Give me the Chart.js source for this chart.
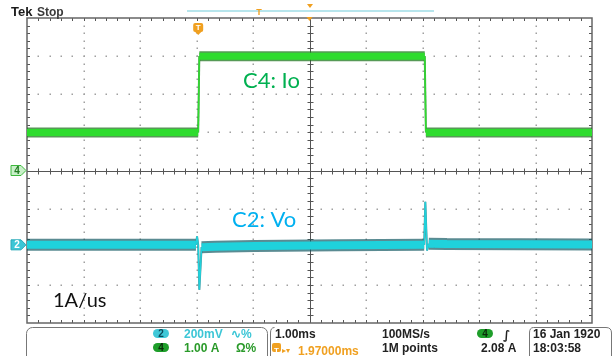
<!DOCTYPE html>
<html>
<head>
<meta charset="utf-8">
<script src="https://cdn.jsdelivr.net/npm/chart.js@4.4.1/dist/chart.umd.min.js"></script>
<style>
  html, body { margin: 0; padding: 0; background: #fff; }
  #wrap { width: 613px; height: 356px; position: relative; }
</style>
</head>
<body>
<div id="wrap"><canvas id="scope"></canvas></div>
<script>
// time base: ms from the trigger, 1.00 ms/div, 10 div across
const timeWindow = [-3.03, 6.97];

// C4: load current Io in A (1.00 A/div, ground at centre)
const ioTime = [-3.03, 0.00, 0.02, 4.01, 4.03, 6.97];
const ioAmps = [1.0, 1.0, 3.0, 3.0, 1.0, 1.0];

// C2: output voltage deviation Vo in mV (200 mV/div)
const voTime = [-3.03, -0.04, -0.02, 0.00, 0.02, 0.06, 0.30, 1.00, 2.50, 4.00, 4.02, 4.05, 4.08, 4.40, 6.97];
const voMv   = [0, 0, 45, 0, -236, -12, -10, -6, -2, 0, 226, -30, 6, 4, 2];

const ch4PerDiv = 1.0;   // A
const ch2PerDiv = 200;   // mV
const ch2Pos = -1.95;    // div

const toPoints = (xs, ys) => xs.map((t, i) => ({ x: t, y: ys[i] }));

// noise band is thick on the flat parts, edges and spikes are thin
const bandWidth = (wide, thin) => c => Math.abs(c.p1.y - c.p0.y) > 6 ? thin : wide;

function pill(ctx, cx, cy, w, h, fill, stroke, text, textColor) {
    ctx.beginPath();
    ctx.roundRect(cx - w / 2, cy - h / 2, w, h, h / 2);
    ctx.fillStyle = fill;
    ctx.fill();
    if (stroke) { ctx.strokeStyle = stroke; ctx.lineWidth = 1; ctx.stroke(); }
    ctx.fillStyle = textColor;
    ctx.font = 'bold 10px "Liberation Sans"';
    ctx.textAlign = 'center';
    ctx.textBaseline = 'middle';
    ctx.fillText(text, cx, cy + 0.5);
}

// ground marker on the left edge, pointing into the screen
function groundTag(ctx, left, cy, fill, stroke, text, textColor) {
    ctx.beginPath();
    ctx.moveTo(left - 16, cy - 5);
    ctx.lineTo(left - 6, cy - 5);
    ctx.lineTo(left - 1, cy);
    ctx.lineTo(left - 6, cy + 5);
    ctx.lineTo(left - 16, cy + 5);
    ctx.closePath();
    ctx.fillStyle = fill;
    ctx.fill();
    ctx.strokeStyle = stroke;
    ctx.lineWidth = 1;
    ctx.stroke();
    ctx.fillStyle = textColor;
    ctx.font = 'bold 10px "Liberation Sans"';
    ctx.textAlign = 'center';
    ctx.textBaseline = 'middle';
    ctx.fillText(text, left - 10, cy + 0.5);
}

const graticule = {
    id: 'graticule',
    beforeDatasetsDraw(chart) {
        const { ctx, chartArea: a, scales: { x, yIo } } = chart;
        const x0 = timeWindow[0];
        ctx.save();

        // dotted division lines
        ctx.fillStyle = '#a0a0a0';
        for (let k = 1; k < 10; k++) {
            if (k === 5) continue;
            const px = Math.round(x.getPixelForValue(x0 + k));
            for (let m = 1; m < 40; m++) {
                const py = Math.round(yIo.getPixelForValue(-4 + m * 0.2));
                ctx.fillRect(px - 0.5, py - 0.5, 1.5, 1.5);
            }
        }
        for (let j = -3; j <= 3; j++) {
            if (j === 0) continue;
            const py = Math.round(yIo.getPixelForValue(j));
            for (let m = 1; m < 50; m++) {
                const px = Math.round(x.getPixelForValue(x0 + m * 0.2));
                ctx.fillRect(px - 0.5, py - 0.5, 1.5, 1.5);
            }
        }

        // centre cross with minor ticks
        const cx = Math.round(x.getPixelForValue(x0 + 5)) + 0.5;
        const cy = Math.round(yIo.getPixelForValue(0)) + 0.5;
        ctx.strokeStyle = '#555';
        ctx.lineWidth = 1;
        ctx.beginPath();
        ctx.moveTo(a.left, cy); ctx.lineTo(a.right, cy);
        ctx.moveTo(cx, a.top); ctx.lineTo(cx, a.bottom);
        for (let m = 1; m < 50; m++) {
            const px = Math.round(x.getPixelForValue(x0 + m * 0.2)) + 0.5;
            ctx.moveTo(px, cy - 3); ctx.lineTo(px, cy + 3);
            ctx.moveTo(px, a.top); ctx.lineTo(px, a.top + 3);
            ctx.moveTo(px, a.bottom); ctx.lineTo(px, a.bottom - 3);
        }
        for (let m = 1; m < 40; m++) {
            const py = Math.round(yIo.getPixelForValue(-4 + m * 0.2)) + 0.5;
            ctx.moveTo(cx - 3, py); ctx.lineTo(cx + 3, py);
            ctx.moveTo(a.left, py); ctx.lineTo(a.left + 3, py);
            ctx.moveTo(a.right, py); ctx.lineTo(a.right - 3, py);
        }
        ctx.stroke();

        // frame
        ctx.strokeStyle = '#666';
        ctx.lineWidth = 1.5;
        ctx.strokeRect(a.left, a.top, a.right - a.left, a.bottom - a.top);
        ctx.restore();
    },
    afterDatasetsDraw(chart) {
        const { ctx, chartArea: a, scales: { x, yIo, yVo } } = chart;
        ctx.save();

        // channel ground markers
        groundTag(ctx, a.left, yIo.getPixelForValue(0), '#c9f0c9', '#3cb83c', '4', '#227a22');
        groundTag(ctx, a.left, yVo.getPixelForValue(0), '#3cc6d6', '#2aa8b8', '2', '#ffffff');

        // trigger position marker
        const tx = x.getPixelForValue(0);
        ctx.fillStyle = '#f0a020';
        ctx.beginPath();
        ctx.roundRect(tx - 5, a.top + 5, 10, 9, 2);
        ctx.moveTo(tx - 3, a.top + 14); ctx.lineTo(tx, a.top + 17); ctx.lineTo(tx + 3, a.top + 14);
        ctx.fill();
        ctx.fillStyle = '#fff';
        ctx.font = 'bold 8px "Liberation Sans"';
        ctx.textAlign = 'center';
        ctx.textBaseline = 'middle';
        ctx.fillText('T', tx, a.top + 10);

        // expansion point at the top of the screen
        const mx = x.getPixelForValue(timeWindow[0] + 5);
        ctx.fillStyle = '#f0a020';
        ctx.beginPath();
        ctx.moveTo(mx - 3, a.top - 1); ctx.lineTo(mx + 3, a.top - 1); ctx.lineTo(mx, a.top + 3);
        ctx.fill();

        // trace annotations
        ctx.textAlign = 'left';
        ctx.textBaseline = 'alphabetic';
        ctx.font = '22px Lato';
        ctx.fillStyle = '#00B050';
        ctx.fillText('C4: Io', 243, 88);
        ctx.fillStyle = '#00B0F0';
        ctx.fillText('C2: Vo', 232, 227);
        ctx.font = '20px Lato';
        ctx.fillStyle = '#111';
        ctx.fillText('1A/us', 53, 307);
        ctx.restore();
    },
    afterDraw(chart) {
        const { ctx } = chart;
        ctx.save();

        // title and record view
        ctx.textAlign = 'left';
        ctx.textBaseline = 'alphabetic';
        ctx.fillStyle = '#1a1a1a';
        ctx.font = 'bold 13px "Liberation Sans"';
        ctx.fillText('Tek', 11, 16);
        ctx.font = 'bold 12px "Liberation Sans"';
        ctx.fillStyle = '#3a3a3a';
        ctx.fillText('Stop', 37, 16);

        ctx.strokeStyle = '#9fdde6';
        ctx.lineWidth = 1.5;
        ctx.beginPath();
        ctx.moveTo(187, 11); ctx.lineTo(434, 11);
        ctx.stroke();
        ctx.fillStyle = '#f0a020';
        ctx.font = 'bold 9px "Liberation Sans"';
        ctx.textAlign = 'center';
        ctx.fillText('T', 259, 15);
        ctx.beginPath();
        ctx.moveTo(307, 4); ctx.lineTo(313, 4); ctx.lineTo(310, 8);
        ctx.fill();

        // status bar frames
        ctx.strokeStyle = '#777';
        ctx.lineWidth = 1;
        ctx.beginPath();
        ctx.roundRect(26.5, 327.5, 241, 40, 6);
        ctx.moveTo(274.5, 327.5); ctx.quadraticCurveTo(270.5, 327.5, 270.5, 333); ctx.lineTo(270.5, 356);
        ctx.moveTo(533.5, 327.5); ctx.quadraticCurveTo(529.5, 327.5, 529.5, 333); ctx.lineTo(529.5, 356);
        ctx.moveTo(533.5, 327.5); ctx.lineTo(606, 327.5); ctx.quadraticCurveTo(611.5, 327.5, 611.5, 333); ctx.lineTo(611.5, 356);
        ctx.stroke();

        // vertical settings
        pill(ctx, 161, 333.5, 16, 9, '#3fc8d8', null, '2', '#0b4a5a');
        pill(ctx, 161, 347.5, 16, 9, '#1e9e2a', null, '4', '#0a2a0a');
        ctx.textAlign = 'left';
        ctx.textBaseline = 'alphabetic';
        ctx.font = 'bold 12px "Liberation Sans"';
        ctx.fillStyle = '#3cc6d6';
        ctx.fillText('200mV', 184, 338);
        ctx.fillText('\u223F%', 231, 338);
        ctx.fillStyle = '#2a9a2a';
        ctx.fillText('1.00 A', 184, 352);
        ctx.fillText('\u03A9%', 236, 352);

        // horizontal and trigger settings
        ctx.fillStyle = '#222';
        ctx.fillText('1.00ms', 275, 338);
        ctx.fillText('100MS/s', 382, 338);
        ctx.fillText('1M points', 382, 352);
        ctx.fillText('2.08 A', 481, 352);
        ctx.fillText('16 Jan 1920', 533, 338);
        ctx.fillText('18:03:58', 533, 352);
        ctx.font = 'italic bold 12px "DejaVu Sans"';
        ctx.fillText('\u222B', 503, 339);

        pill(ctx, 485, 333.5, 16, 9, '#1e9e2a', null, '4', '#0a2a0a');

        ctx.fillStyle = '#f0a020';
        ctx.beginPath();
        ctx.roundRect(272, 343, 9, 9, 2);
        ctx.fill();
        ctx.fillStyle = '#fff';
        ctx.font = 'bold 8px "Liberation Sans"';
        ctx.textAlign = 'center';
        ctx.fillText('T', 276.5, 351);
        ctx.textAlign = 'left';
        ctx.fillStyle = '#f0a020';
        ctx.font = 'bold 8px "DejaVu Sans"';
        ctx.fillText('\u25B8\u25BE', 282, 351);
        ctx.font = 'bold 12px "Liberation Sans"';
        ctx.fillText('1.97000ms', 298, 352);
        ctx.restore();
    }
};

const ioPoints = toPoints(ioTime, ioAmps);
const voPoints = toPoints(voTime, voMv);

new Chart(document.getElementById('scope'), {
    type: 'line',
    data: {
        datasets: [
            {
                label: 'C4: Io', data: ioPoints, yAxisID: 'yIo', order: 1,
                borderColor: '#2edc2e', borderWidth: 7,
                segment: { borderWidth: bandWidth(7, 1.5) }
            },
            {
                label: 'C4 edge', data: ioPoints, yAxisID: 'yIo', order: 2,
                borderColor: 'rgba(30,120,30,0.75)', borderWidth: 10,
                segment: { borderWidth: bandWidth(10, 2) }
            },
            {
                label: 'C2: Vo', data: voPoints, yAxisID: 'yVo', order: 1,
                borderColor: '#1fd2dc', borderWidth: 8,
                segment: { borderWidth: bandWidth(8, 1.5) }
            },
            {
                label: 'C2 edge', data: voPoints, yAxisID: 'yVo', order: 2,
                borderColor: 'rgba(20,90,100,0.7)', borderWidth: 12,
                segment: { borderWidth: bandWidth(12, 2) }
            }
        ]
    },
    options: {
        responsive: true,
        maintainAspectRatio: false,
        animation: false,
        events: [],
        layout: { padding: { left: 27, right: 21, top: 18, bottom: 33 } },
        elements: {
            point: { radius: 0 },
            line: { tension: 0, borderCapStyle: 'butt', borderJoinStyle: 'bevel' }
        },
        plugins: { legend: { display: false }, tooltip: { enabled: false } },
        scales: {
            x: { type: 'linear', min: timeWindow[0], max: timeWindow[1], display: false },
            yIo: { type: 'linear', min: -4 * ch4PerDiv, max: 4 * ch4PerDiv, display: false },
            yVo: { type: 'linear', min: (-4 - ch2Pos) * ch2PerDiv, max: (4 - ch2Pos) * ch2PerDiv, display: false }
        }
    },
    plugins: [graticule]
});
</script>
</body>
</html>
